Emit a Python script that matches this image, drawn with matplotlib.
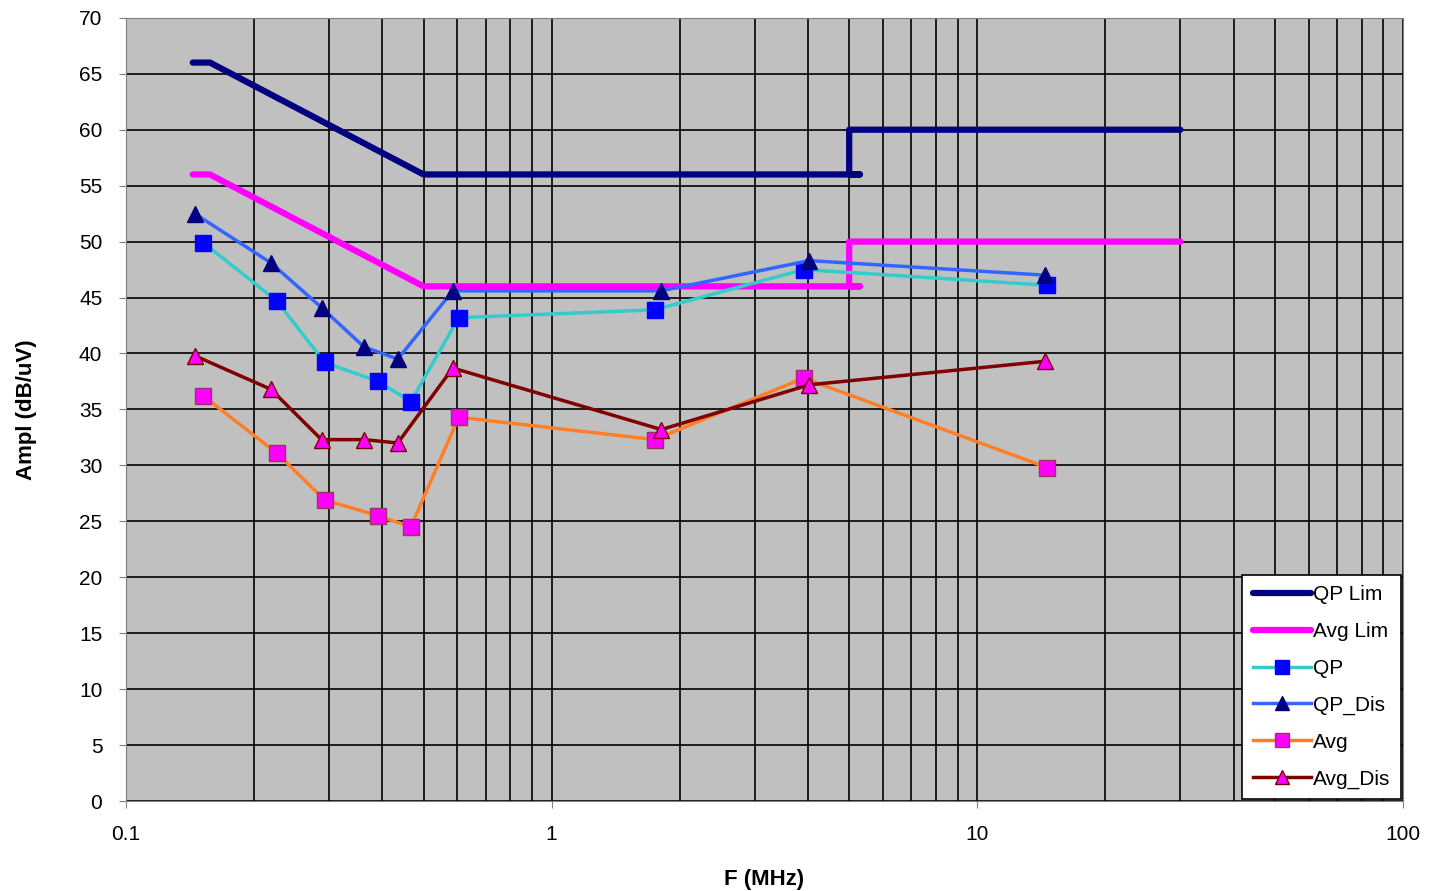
import matplotlib
matplotlib.use("Agg")
import matplotlib.pyplot as plt
from matplotlib.ticker import LogLocator, FixedLocator, NullFormatter, FixedFormatter

plt.rcParams['font.family'] = ['Liberation Sans', 'DejaVu Sans']

# limit lines
qp_lim_f = [0.1435, 0.1575, 0.5, 5.3, 5.0, 5.0, 30]
qp_lim_db = [66, 66, 56, 56, 56, 60, 60]
avg_lim_f = [0.1435, 0.1575, 0.5, 5.3, 5.0, 5.0, 30]
avg_lim_db = [56, 56, 46, 46, 46, 50, 50]

# measurements
qp_f = [0.152, 0.226, 0.293, 0.391, 0.467, 0.605, 1.745, 3.91, 14.6]
qp_db = [49.9, 44.7, 39.2, 37.5, 35.7, 43.2, 43.9, 47.5, 46.1]
qp_dis_f = [0.145, 0.219, 0.288, 0.362, 0.435, 0.586, 1.81, 4.03, 14.4]
qp_dis_db = [52.5, 48.1, 44.1, 40.6, 39.5, 45.6, 45.6, 48.3, 47.0]
avg_f = [0.152, 0.226, 0.293, 0.391, 0.467, 0.605, 1.745, 3.91, 14.6]
avg_db = [36.2, 31.1, 26.9, 25.5, 24.5, 34.3, 32.3, 37.8, 29.8]
avg_dis_f = [0.145, 0.219, 0.288, 0.362, 0.435, 0.586, 1.81, 4.03, 14.4]
avg_dis_db = [39.8, 36.8, 32.3, 32.3, 32.0, 38.7, 33.2, 37.2, 39.3]

fig = plt.figure(figsize=(14.3, 8.91), dpi=100)
ax = fig.add_axes([0.0881, 0.101, 0.893, 0.879])
ax.set_facecolor('#C0C0C0')

ax.plot(qp_lim_f, qp_lim_db, color='#000080', lw=4.5, label='QP Lim', solid_capstyle='round')
ax.plot(avg_lim_f, avg_lim_db, color='#FF00FF', lw=4.5, label='Avg Lim', solid_capstyle='round')
ax.plot(qp_f, qp_db, color='#33CCCC', lw=2.5, marker='s', ms=12, mfc='#0000FF', mec='#0000FF', label='QP')
ax.plot(qp_dis_f, qp_dis_db, color='#3366FF', lw=2.5, marker='^', ms=12, mfc='#000080', mec='#000080', label='QP_Dis')
ax.plot(avg_f, avg_db, color='#FF7F27', lw=2.5, marker='s', ms=12, mfc='#FF00FF', mec='#993366', label='Avg')
ax.plot(avg_dis_f, avg_dis_db, color='#800000', lw=2.5, marker='^', ms=12, mfc='#FF00FF', mec='#800000', label='Avg_Dis')

ax.set_xscale('log')
ax.set_xlim(0.1, 100)
ax.set_ylim(0, 70)
ax.xaxis.set_major_locator(FixedLocator([0.1, 1, 10, 100]))
ax.xaxis.set_major_formatter(FixedFormatter(['0.1', '1', '10', '100']))
ax.xaxis.set_minor_locator(LogLocator(base=10, subs=range(2, 10), numticks=20))
ax.xaxis.set_minor_formatter(NullFormatter())
ax.set_yticks(range(0, 71, 5))
ax.grid(True, which='both', color='black', lw=1.2)
ax.set_axisbelow(True)
ax.tick_params(axis='y', which='major', labelsize=15, length=5, pad=12, color='#808080')
ax.tick_params(axis='x', which='major', labelsize=15, length=5, pad=12, color='#808080')
ax.tick_params(axis='x', which='minor', length=0)
for s in ax.spines.values():
    s.set_color('#808080')

ax.set_xlabel('F (MHz)', fontsize=16, fontweight='bold', labelpad=18)
ax.set_ylabel('Ampl (dB/uV)', fontsize=16, fontweight='bold', labelpad=30)

leg = ax.legend(loc='lower right', fontsize=15, handlelength=2.8, handletextpad=0.1,
                borderaxespad=0.1, fancybox=False, framealpha=1, edgecolor='black',
                labelspacing=0.85, markerscale=0.8, borderpad=0.5)
leg.get_frame().set_linewidth(1.2)

fig.savefig('out.png', dpi=100)
